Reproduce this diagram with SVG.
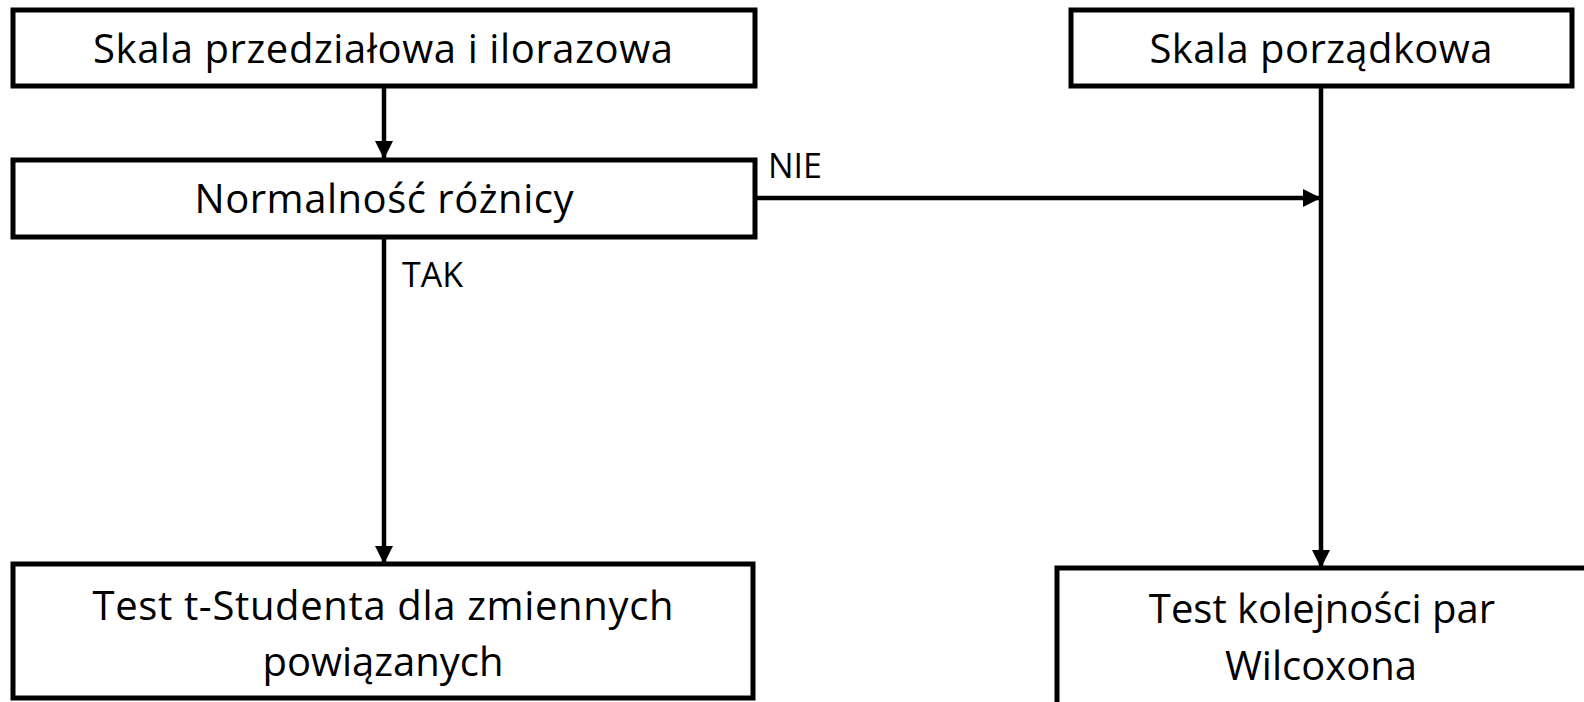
<svg xmlns="http://www.w3.org/2000/svg" width="1584" height="702" viewBox="0 0 1584 702">
<style>
  .box { fill: #ffffff; stroke: #000000; stroke-width: 5; }
  .lbl { font-family: "Open Sans", "Noto Sans", "Liberation Sans", sans-serif; font-size: 40px; fill: #000000; text-anchor: middle; }
  .small { font-family: "Open Sans", "Noto Sans", "Liberation Sans", sans-serif; font-size: 34px; fill: #000000; }
  .conn { stroke: #000000; stroke-width: 4.5; fill: none; }
</style>
<defs>
  <marker id="arrow" markerUnits="userSpaceOnUse" markerWidth="18" markerHeight="18" viewBox="0 0 18 18" refX="18" refY="9" orient="auto">
    <path d="M0,0 L18,9 L0,18 z" fill="#000000"/>
  </marker>
</defs>
<rect x="0" y="0" width="1584" height="702" fill="#ffffff"/>

<g id="connectors">
  <line class="conn" x1="384" y1="88" x2="384" y2="159" marker-end="url(#arrow)"/>
  <line class="conn" x1="757" y1="198" x2="1321" y2="198" marker-end="url(#arrow)"/>
  <line class="conn" x1="384" y1="239" x2="384" y2="564" marker-end="url(#arrow)"/>
  <line class="conn" x1="1321" y1="88" x2="1321" y2="568" marker-end="url(#arrow)"/>
  <text class="small" x="768" y="178">NIE</text>
  <text class="small" x="402" y="287">TAK</text>
</g>

<g id="node-przedzialowa">
  <rect class="box" x="13" y="10" width="742" height="76"/>
  <text class="lbl" x="383" y="63" textLength="580">Skala przedziałowa i ilorazowa</text>
</g>

<g id="node-normalnosc">
  <rect class="box" x="13" y="160" width="742" height="77"/>
  <text class="lbl" x="384" y="213" textLength="379">Normalność różnicy</text>
</g>

<g id="node-porzadkowa">
  <rect class="box" x="1071" y="10" width="501" height="76"/>
  <text class="lbl" x="1321" y="63" textLength="343">Skala porządkowa</text>
</g>

<g id="node-tstudent">
  <rect class="box" x="13" y="564" width="740" height="134"/>
  <text class="lbl" x="383" y="620" textLength="581">Test t-Studenta dla zmiennych</text>
  <text class="lbl" x="383" y="676">powiązanych</text>
</g>

<g id="node-wilcoxon">
  <rect class="box" x="1057" y="568" width="540" height="150"/>
  <text class="lbl" x="1322" y="623">Test kolejności par</text>
  <text class="lbl" x="1321" y="680">Wilcoxona</text>
</g>
</svg>
